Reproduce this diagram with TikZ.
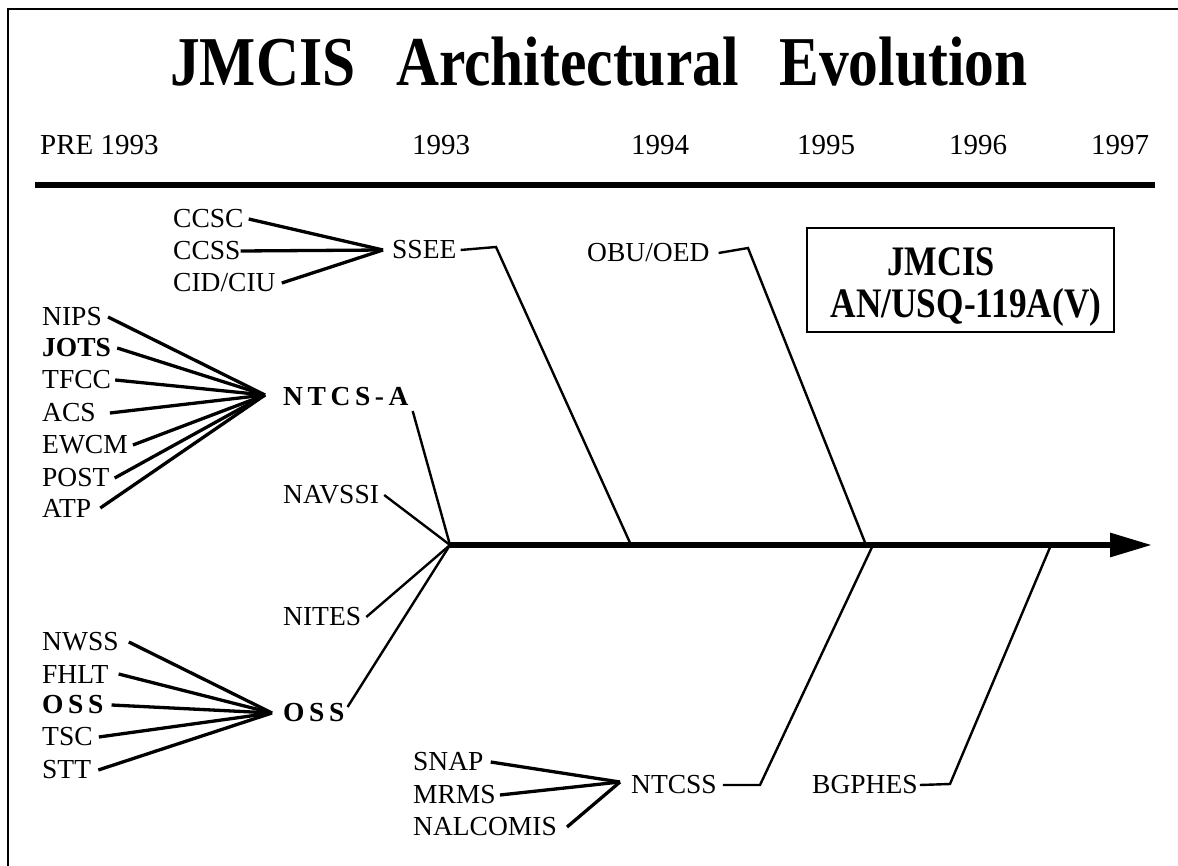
\documentclass[tikz,border=0pt]{standalone}
\usepackage{fontspec}
\setmainfont{Liberation Serif}
\usepackage{graphicx}
\usetikzlibrary{arrows.meta}
\begin{document}
\begin{tikzpicture}[x=1pt,y=-1pt,
  lab/.style={font=\fontsize{27.5}{30}\selectfont, inner sep=0pt, anchor=west},
  blab/.style={lab, font=\fontsize{27.5}{30}\selectfont\bfseries},
  yr/.style={font=\fontsize{29}{32}\selectfont, inner sep=0pt, anchor=base},
  boxtxt/.style={font=\fontsize{42}{46}\selectfont\bfseries, inner sep=0pt},
  fan/.style={line width=3.3pt},
  conn/.style={line width=2.4pt},
  frame/.style={line width=2.5pt}]
\useasboundingbox (0,0) rectangle (1178,866);
% frame
\coordinate (fl) at (8,9);
\coordinate (fr) at (1178,9);
\coordinate (fb) at (8,866);
\draw[frame] (fr) -- (fl) -- (fb);
% title
\node[inner sep=0pt, anchor=base west] (title) at (170,86)
  {\scalebox{0.85}[1]{\fontsize{70}{76}\selectfont\bfseries JMCIS\hspace{48pt}Architectural\hspace{48pt}Evolution}};
% years
\node[yr, anchor=base west] (pre) at (40,155) {PRE 1993};
\node[yr] (y93) at (441,155) {1993};
\node[yr] (y94) at (660,155) {1994};
\node[yr] (y95) at (826,155) {1995};
\node[yr] (y96) at (978,155) {1996};
\node[yr] (y97) at (1120,155) {1997};
\coordinate (rl) at (35,185);
\coordinate (rr) at (1155,185);
\draw[line width=6pt] (rl) -- (rr);
% main arrow
\coordinate (apex) at (450,545);
\coordinate (tip) at (1152,545);
\draw[line width=6pt, -{Triangle[length=42pt,width=23pt]}] (apex) -- (tip);
\coordinate (j1) at (631,545);
\coordinate (j2) at (866,545);
\coordinate (j3) at (873,545);
\coordinate (j4) at (1051,545);
% SSEE group
\node[lab] (ccsc) at (173,219) {CCSC};
\node[lab] (ccss) at (173,251) {CCSS};
\node[lab] (cid) at (173,283) {CID/CIU};
\coordinate (f0) at (383,250);
\node[lab] (ssee) at (392,250) {SSEE};
\draw[fan] ([xshift=5pt]ccsc.east) -- (f0);
\draw[fan] (ccss.east) -- (f0);
\draw[fan] ([xshift=6pt]cid.east) -- (f0);
\coordinate (s1) at (496,247);
\draw[conn] ([xshift=4pt]ssee.east) -- (s1) -- (j1);
% OBU/OED
\node[lab] (obu) at (587,253) {OBU/OED};
\coordinate (o1) at (748,248);
\draw[conn] ([xshift=9pt]obu.east) -- (o1) -- (j2);
% box
\node[draw, line width=1.6pt, minimum width=307pt, minimum height=104pt, inner sep=0pt] (box) at (960.5,280) {};
\node[boxtxt] (bx1) at (941,262) {\scalebox{0.82}[1]{JMCIS}};
\node[boxtxt] (bx2) at (966,307) {\scalebox{0.84}[1]{AN/USQ-119A(V)}};
% NTCS-A group
\node[lab] (nips) at (42,317) {NIPS};
\node[blab] (jots) at (42,348) {JOTS};
\node[lab] (tfcc) at (42,380) {TFCC};
\node[lab] (acs) at (42,413) {ACS};
\node[lab] (ewcm) at (42,445) {EWCM};
\node[lab] (post) at (42,478) {POST};
\node[lab] (atp) at (42,508) {ATP};
\coordinate (f1) at (265,395);
\node[blab] (ntcsa) at (283,397) {N\,T\,C\,S\,-\,A};
\foreach \n/\s in {nips/6,jots/6,tfcc/4,acs/14,ewcm/5,post/5,atp/9}
  \draw[fan] ([xshift=\s pt]\n.east) -- (f1);
\draw[conn] ([xshift=4pt,yshift=-14pt]ntcsa.east) -- (apex);
\node[lab] (navssi) at (283,495) {NAVSSI};
\draw[conn] ([xshift=5pt]navssi.east) -- (apex);
\node[lab] (nites) at (283,617) {NITES};
\draw[conn] ([xshift=5pt]nites.east) -- (apex);
% OSS group
\node[lab] (nwss) at (42,642) {NWSS};
\node[lab] (fhlt) at (42,674) {FHLT};
\node[blab] (oss1) at (42,705) {O\,S\,S};
\node[lab] (tsc) at (42,737) {TSC};
\node[lab] (stt) at (42,770) {STT};
\coordinate (f2) at (272,713);
\node[blab] (oss) at (283,713) {O\,S\,S};
\foreach \n/\s in {nwss/10,fhlt/10,oss1/8,tsc/6,stt/7}
  \draw[fan] ([xshift=\s pt]\n.east) -- (f2);
\draw[conn] ([xshift=3pt,yshift=6pt]oss.east) -- (apex);
% NTCSS group
\node[lab] (snap) at (413,762) {SNAP};
\node[lab] (mrms) at (413,795) {MRMS};
\node[lab] (nalc) at (413,827) {NALCOMIS};
\coordinate (f3) at (620,782);
\node[lab] (ntcss) at (631,785) {NTCSS};
\draw[fan] ([xshift=7pt]snap.east) -- (f3);
\draw[fan] ([xshift=4pt]mrms.east) -- (f3);
\draw[fan] ([xshift=10pt]nalc.east) -- (f3);
\coordinate (n1) at (760,785);
\draw[conn] ([xshift=6pt]ntcss.east) -- (n1) -- (j3);
% BGPHES
\node[lab] (bgphes) at (812,785) {BGPHES};
\coordinate (b1) at (950,784);
\draw[conn] ([xshift=2pt]bgphes.east) -- (b1) -- (j4);
\end{tikzpicture}
\end{document}
